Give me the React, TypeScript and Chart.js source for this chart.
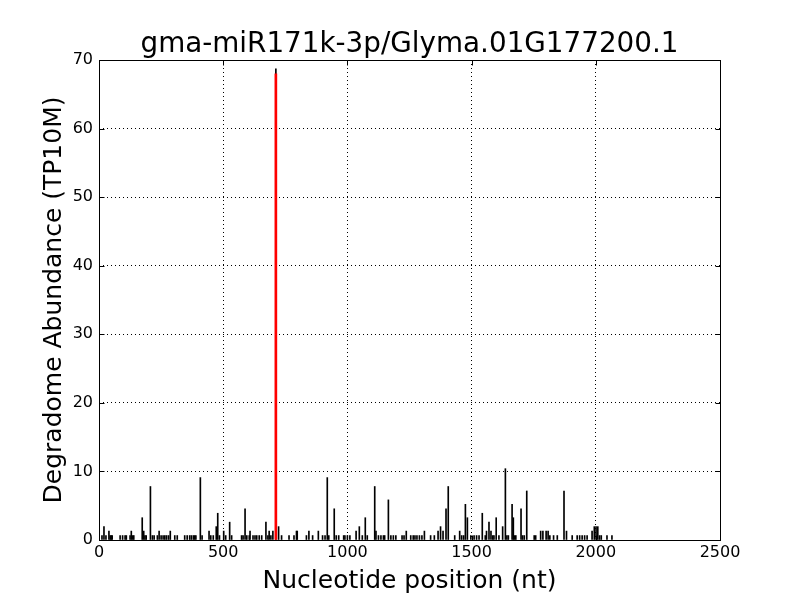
import { useEffect, useRef } from "react";
import { Chart, registerables } from "chart.js";

Chart.register(...registerables);

const TITLE = "gma-miR171k-3p/Glyma.01G177200.1";
const X_LABEL = "Nucleotide position (nt)";
const Y_LABEL = "Degradome Abundance (TP10M)";
const FONT = "'DejaVu Sans', sans-serif";

const positions = [
  12, 20, 28, 40, 45, 50, 53, 85, 95, 105, 110, 125, 130, 135, 140, 174, 180, 185, 190, 207,
  215, 222, 235, 242, 250, 258, 265, 272, 280, 287, 305, 315, 345, 355, 365, 372, 380, 385, 390, 408,
  415, 443, 450, 460, 472, 478, 485, 502, 510, 526, 534, 574, 580, 588, 595, 605, 608, 620, 628, 635,
  645, 655, 672, 680, 685, 692, 700, 712, 723, 735, 765, 785, 795, 798, 835, 845, 860, 883, 900, 910,
  919, 925, 947, 955, 965, 985, 990, 1000, 1010, 1035, 1048, 1060, 1072, 1080, 1110, 1115, 1125, 1135, 1145, 1150,
  1165, 1175, 1185, 1195, 1220, 1228, 1237, 1255, 1265, 1272, 1280, 1290, 1300, 1310, 1335, 1350, 1365, 1375, 1385, 1397,
  1406, 1432, 1452, 1460, 1468, 1475, 1483, 1497, 1510, 1520, 1530, 1543, 1555, 1560, 1570, 1578, 1585, 1590, 1599, 1610,
  1625, 1636, 1642, 1648, 1663, 1668, 1672, 1678, 1699, 1705, 1712, 1722, 1752, 1758, 1778, 1787, 1800, 1808, 1815, 1830,
  1845, 1872, 1882, 1905, 1925, 1935, 1945, 1955, 1965, 1985, 1994, 2001, 2008, 2015, 2022, 2045, 2065,
];

const abundances = [
  0.65, 1.95, 0.65, 1.3, 0.65, 0.65, 0.65, 0.65, 0.65, 0.65, 0.65, 0.65, 1.3, 0.65, 0.65, 3.25, 1.3, 0.65, 0.65, 7.8,
  0.65, 0.65, 0.65, 1.3, 0.65, 0.65, 0.65, 0.65, 0.65, 1.3, 0.65, 0.65, 0.65, 0.65, 0.65, 0.65, 0.65, 0.65, 0.65, 9.1,
  0.65, 1.3, 0.65, 0.65, 1.95, 3.9, 0.65, 1.3, 0.65, 2.6, 0.65, 0.65, 0.65, 4.55, 0.65, 0.65, 1.3, 0.65, 0.65, 0.65,
  0.65, 0.65, 2.6, 0.65, 1.3, 0.65, 1.3, 68.7, 1.95, 0.65, 0.65, 0.65, 1.3, 1.3, 0.65, 1.3, 0.65, 1.3, 0.65, 0.65,
  9.1, 0.65, 4.55, 0.65, 0.65, 0.65, 0.65, 0.65, 0.65, 1.3, 1.95, 0.65, 3.25, 0.65, 7.8, 1.3, 0.65, 0.65, 0.65, 0.65,
  5.85, 0.65, 0.65, 0.65, 0.65, 0.65, 1.3, 0.65, 0.65, 0.65, 0.65, 0.65, 0.65, 1.3, 0.65, 0.65, 1.3, 1.95, 1.3, 4.55,
  7.8, 0.65, 1.3, 0.65, 0.65, 5.2, 3.25, 0.65, 0.65, 0.65, 0.65, 3.9, 0.65, 1.3, 2.6, 1.3, 0.65, 0.65, 3.25, 0.65,
  1.95, 10.4, 0.65, 0.65, 5.2, 3.25, 0.65, 0.65, 4.55, 0.65, 0.65, 7.15, 0.65, 0.65, 1.3, 1.3, 1.3, 1.3, 0.65, 0.65,
  0.65, 7.15, 1.3, 0.65, 0.65, 0.65, 0.65, 0.65, 0.65, 1.3, 1.95, 1.95, 1.95, 0.65, 0.65, 0.65, 0.65,
];

const cleavagePositions = [712];
const cleavageAbundances = [68.0];

const xTickValues = [0, 500, 1000, 1500, 2000, 2500];
const yTickValues = [0, 10, 20, 30, 40, 50, 60, 70];

const framePlugin = {
  id: "mplFrame",
  afterDraw(chart: any) {
    const { ctx, chartArea: a, scales } = chart;
    const L = Math.round(a.left) + 0.5;
    const R = Math.round(a.right) + 0.5;
    const T = Math.round(a.top) + 0.5;
    const B = Math.round(a.bottom) + 0.5;
    ctx.save();
    ctx.setLineDash([]);
    ctx.strokeStyle = "#000";
    ctx.lineWidth = 1;
    ctx.strokeRect(L, T, R - L, B - T);
    const tl = 5;
    ctx.beginPath();
    for (const v of xTickValues) {
      const px = Math.round(scales.x.getPixelForValue(v)) + 0.5;
      ctx.moveTo(px, B);
      ctx.lineTo(px, B - tl);
      ctx.moveTo(px, T);
      ctx.lineTo(px, T + tl);
    }
    for (const v of yTickValues) {
      const py = Math.round(scales.y.getPixelForValue(v)) + 0.5;
      ctx.moveTo(L, py);
      ctx.lineTo(L + tl, py);
      ctx.moveTo(R, py);
      ctx.lineTo(R - tl, py);
    }
    ctx.stroke();
    ctx.restore();
  },
};

export default function App() {
  const ref = useRef<HTMLCanvasElement>(null);

  useEffect(() => {
    const chart = new Chart(ref.current as HTMLCanvasElement, {
      type: "bar",
      data: {
        datasets: [
          {
            data: positions.map((p, i) => ({ x: p, y: abundances[i] })),
            backgroundColor: "#000000",
            borderWidth: 0,
            barThickness: 1,
            grouped: false,
            order: 1,
          } as any,
          {
            data: cleavagePositions.map((p, i) => ({ x: p, y: cleavageAbundances[i] })),
            backgroundColor: "#ff0000",
            borderWidth: 0,
            barThickness: 2,
            grouped: false,
            order: 0,
          } as any,
        ],
      },
      options: {
        responsive: false,
        animation: false,
        devicePixelRatio: 1,
        layout: { padding: { left: 0, right: 80, top: 0, bottom: 0 } },
        plugins: {
          legend: { display: false },
          tooltip: { enabled: false },
          title: {
            display: true,
            text: TITLE,
            fullSize: false,
            color: "#000",
            font: { family: FONT, size: 27.8, weight: "normal", lineHeight: "31.4px" },
            padding: { top: 28.6, bottom: 0 },
          },
        },
        scales: {
          x: {
            type: "linear",
            min: 0,
            max: 2500,
            offset: false,
            afterBuildTicks: (s: any) => {
              s.ticks = xTickValues.map((v) => ({ value: v }));
            },
            afterFit: (s: any) => {
              s.height = 60;
            },
            grid: { color: "#000", lineWidth: 1, drawTicks: false, offset: false },
            border: { display: false, dash: [1, 3] },
            ticks: {
              color: "#000",
              font: { family: FONT, size: 16 },
              padding: 3,
              maxRotation: 0,
              autoSkip: false,
              callback: (v: any) => String(v),
            },
            title: {
              display: true,
              text: X_LABEL,
              color: "#000",
              font: { family: FONT, size: 25 },
              padding: { top: 0, bottom: 3.5 },
            },
          },
          y: {
            type: "linear",
            min: 0,
            max: 70,
            afterBuildTicks: (s: any) => {
              s.ticks = yTickValues.map((v) => ({ value: v }));
            },
            afterFit: (s: any) => {
              s.width = 99;
            },
            grid: { color: "#000", lineWidth: 1, drawTicks: false, offset: false },
            border: { display: false, dash: [1, 3] },
            ticks: {
              color: "#000",
              font: { family: FONT, size: 16 },
              padding: 6,
              autoSkip: false,
              callback: (v: any) => String(v),
            },
            title: {
              display: true,
              text: Y_LABEL,
              color: "#000",
              font: { family: FONT, size: 25 },
              padding: { top: 39.5, bottom: 0 },
            },
          },
        },
      } as any,
      plugins: [framePlugin],
    });
    return () => chart.destroy();
  }, []);

  return (
    <div style={{ position: "absolute", left: 0, top: 0, width: 800, height: 600, background: "#fff" }}>
      <canvas ref={ref} width={800} height={600} style={{ display: "block" }} />
    </div>
  );
}
